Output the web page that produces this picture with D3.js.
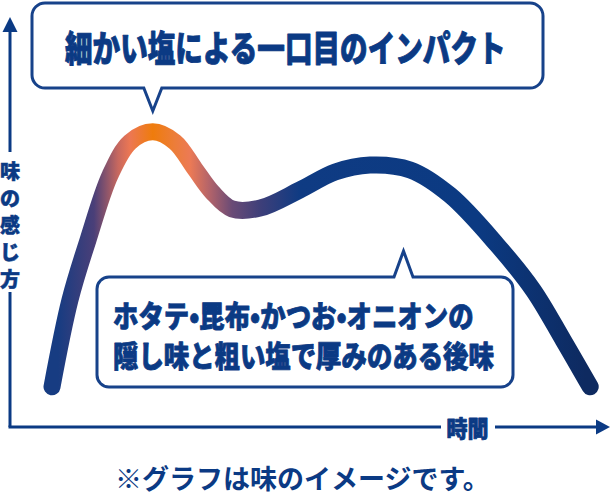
<!DOCTYPE html>
<html>
<head>
<meta charset="utf-8">
<script src="https://cdn.jsdelivr.net/npm/d3@7"></script>
<style>
  html, body { margin: 0; padding: 0; background: #ffffff; }
  svg { display: block; }
  text { font-family: "Noto Sans CJK JP", "Noto Sans", sans-serif; }
</style>
</head>
<body>
<div id="chart"></div>
<script>
// curve of the taste over time (time 0..100, taste 0..100)
var times  = [7, 10, 13, 16.7, 20, 23.8, 27.5, 30.8, 33.7, 37, 41.7, 48.3, 54.2, 60, 66.7, 73.3, 81.2, 87.2, 92.2, 96.7];
var tastes = [9.8, 31, 45.6, 61.5, 69.5, 72, 69.5, 63, 57.3, 53.2, 53.4, 57.8, 62.2, 63.9, 62.7, 56.6, 44.4, 33.4, 21.2, 9.8];

// gradient colours along time
var gradTimes  = [8, 14, 18, 20, 23.8, 27.5, 30, 33.3, 37, 41.7, 48.3, 78, 96];
var gradColors = ['#173c82', '#4a3f78', '#c7685f', '#ec7753', '#ef7c0c', '#ec7d3a', '#ec7a55', '#b2636a', '#6a4b76', '#3e3f79', '#0f3b83', '#0b3a82', '#0e2a60'];

var yLabel = ['味', 'の', '感', 'じ', '方'];
var xLabel = '時間';
var callout1 = '細かい塩による一口目のインパクト';
var callout2 = ['ホタテ•昆布•かつお•オニオンの', '隠し味と粗い塩で厚みのある後味'];
var footnote = '※グラフは味のイメージです。';

var width = 611;
var height = 492;
var navy = '#0b3a84';

var x = d3.scaleLinear().domain([0, 100]).range([10, 610]);
var y = d3.scaleLinear().domain([0, 100]).range([427, 17]);

var svg = d3.select('#chart')
  .append('svg')
    .attr('width', width)
    .attr('height', height);

// gradient for the curve
var grad = svg.append('defs')
  .append('linearGradient')
    .attr('id', 'taste-grad')
    .attr('gradientUnits', 'userSpaceOnUse')
    .attr('x1', 0).attr('y1', 0)
    .attr('x2', width).attr('y2', 0);

grad.selectAll('stop')
    .data(gradTimes)
  .enter()
    .append('stop')
    .attr('offset', function(d) { return x(d) / width; })
    .attr('stop-color', function(d, i) { return gradColors[i]; });

// y axis: arrow up, with a gap for the label
svg.append('line')
    .attr('x1', x(0)).attr('x2', x(0))
    .attr('y1', y(0)).attr('y2', 292)
    .attr('stroke', navy).attr('stroke-width', 3);
svg.append('line')
    .attr('x1', x(0)).attr('x2', x(0))
    .attr('y1', 152).attr('y2', 30)
    .attr('stroke', navy).attr('stroke-width', 3);
svg.append('path')
    .attr('d', 'M' + x(0) + ',' + 17 + 'L' + (x(0) - 7.5) + ',32L' + (x(0) + 7.5) + ',32Z')
    .attr('fill', navy);

// x axis: arrow right, with a gap for the label
svg.append('line')
    .attr('x1', x(0) - 1.5).attr('x2', 441)
    .attr('y1', y(0)).attr('y2', y(0))
    .attr('stroke', navy).attr('stroke-width', 3);
svg.append('line')
    .attr('x1', 495).attr('x2', 598)
    .attr('y1', y(0)).attr('y2', y(0))
    .attr('stroke', navy).attr('stroke-width', 3);
svg.append('path')
    .attr('d', 'M610,' + y(0) + 'L596,' + (y(0) - 7.5) + 'L596,' + (y(0) + 7.5) + 'Z')
    .attr('fill', navy);

// condensed heavy text: natural width, stretched upward
function heavyText(g, str, tx, ty, size, sy) {
    return g.append('text')
        .text(str)
        .attr('transform', 'translate(' + tx + ',' + ty + ') scale(1,' + sy + ')')
        .attr('dominant-baseline', 'central')
        .attr('font-size', size)
        .attr('font-weight', 900)
        .attr('fill', navy)
        .attr('stroke', navy)
        .attr('stroke-width', 0.7)
        .attr('stroke-linejoin', 'round');
}

// axis labels
svg.append('g')
    .selectAll('text')
    .data(yLabel)
  .enter()
    .append('text')
    .text(function(d) { return d; })
    .attr('x', x(0))
    .attr('y', function(d, i) { return 170 + i * 27; })
    .attr('text-anchor', 'middle')
    .attr('dominant-baseline', 'central')
    .attr('font-size', 20)
    .attr('font-weight', 900)
    .attr('fill', navy)
    .attr('stroke', navy)
    .attr('stroke-width', 0.5);

heavyText(svg, xLabel, 467.5, y(0), 21, 1.1)
    .attr('text-anchor', 'middle');

// the taste curve
var line = d3.line()
    .x(function(d, i) { return x(times[i]); })
    .y(function(d) { return y(d); })
    .curve(d3.curveCatmullRom.alpha(0.5));

svg.append('path')
    .attr('d', line(tastes))
    .attr('fill', 'none')
    .attr('stroke', 'url(#taste-grad)')
    .attr('stroke-width', 17)
    .attr('stroke-linecap', 'round');

// rounded box with a pointer, pointer on top or bottom
function callout(bx, by, bw, bh, r, tipX, tipY, half) {
    var p = d3.path();
    var bottom = tipY > by + bh;
    p.moveTo(bx + r, by);
    if (!bottom) {
        p.lineTo(tipX - half, by);
        p.lineTo(tipX, tipY);
        p.lineTo(tipX + half, by);
    }
    p.lineTo(bx + bw - r, by);
    p.arcTo(bx + bw, by, bx + bw, by + r, r);
    p.lineTo(bx + bw, by + bh - r);
    p.arcTo(bx + bw, by + bh, bx + bw - r, by + bh, r);
    if (bottom) {
        p.lineTo(tipX + half, by + bh);
        p.lineTo(tipX, tipY);
        p.lineTo(tipX - half, by + bh);
    }
    p.lineTo(bx + r, by + bh);
    p.arcTo(bx, by + bh, bx, by + bh - r, r);
    p.lineTo(bx, by + r);
    p.arcTo(bx, by, bx + r, by, r);
    p.closePath();
    return p.toString();
}

svg.append('path')
    .attr('d', callout(32, 3, 511, 85, 13, x(23.8), 111, 9))
    .attr('fill', '#ffffff')
    .attr('stroke', '#17428a')
    .attr('stroke-width', 3);

heavyText(svg, callout1, 65, 46, 27.6, 1.3);

svg.append('path')
    .attr('d', callout(97, 277, 416, 110, 12, 403.5, 251, 9.5))
    .attr('fill', '#ffffff')
    .attr('stroke', '#17428a')
    .attr('stroke-width', 3);

callout2.forEach(function(d, i) {
    heavyText(svg, d, 113, 314 + i * 40, 25.4, 1.15);
});

// footnote
svg.append('text')
    .text(footnote)
    .attr('x', 115)
    .attr('y', 477)
    .attr('dominant-baseline', 'central')
    .attr('font-size', 27)
    .attr('font-weight', 700)
    .attr('fill', navy);
</script>
</body>
</html>
